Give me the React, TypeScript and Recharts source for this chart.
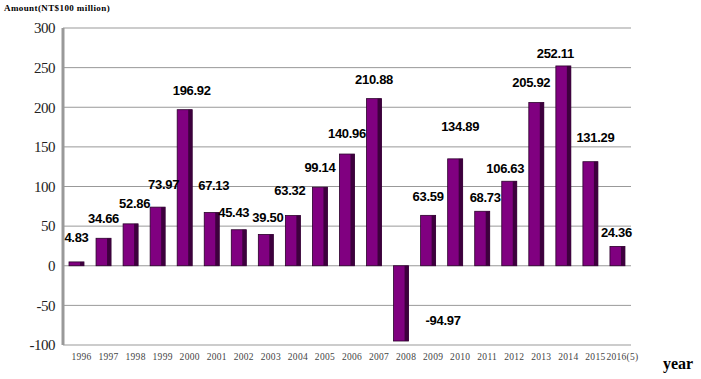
import React from 'react';
import {
  BarChart,
  Bar,
  XAxis,
  YAxis,
  CartesianGrid,
  LabelList
} from 'recharts';

const years = ['1996', '1997', '1998', '1999', '2000', '2001', '2002', '2003', '2004', '2005', '2006',
  '2007', '2008', '2009', '2010', '2011', '2012', '2013', '2014', '2015', '2016(5)'];
const amounts = [4.83, 34.66, 52.86, 73.97, 196.92, 67.13, 45.43, 39.50, 63.32, 99.14, 140.96,
  210.88, -94.97, 63.59, 134.89, 68.73, 106.63, 205.92, 252.11, 131.29, 24.36];
const yTicks = [-100, -50, 0, 50, 100, 150, 200, 250, 300];

// label placement nudges [dx, lift above bar top], as in the original picture
const labelNudge = [
  [0, 25], [0, 20], [4, 21], [6, 23], [7, 20], [2, 28], [-5, 18], [2, 17], [-3, 26], [0, 20], [0, 21],
  [0, 20], [42, 21], [0, 19], [5, 33], [3, 14], [-4, 13], [-5, 21], [-8, 13], [5, 25], [-1, 14]
];

const data = years.map((y, i) => ({ year: y, amount: amounts[i] }));

const PurpleBar = (props: any) => {
  const { x, y, width, height } = props;
  const top = Math.min(y, y + height);
  const h = Math.abs(height);
  return (
    <g>
      <rect x={x} y={top} width={width} height={h} fill="#800080" stroke="#2a002a" strokeWidth={0.8} />
      <rect x={x + width - 4} y={top} width={4} height={h} fill="#3d003d" />
    </g>
  );
};

const ValueLabel = (props: any) => {
  const { x, y, width, height, value, index } = props;
  const [dx, lift] = labelNudge[index] || [0, 20];
  const cx = x + width / 2 + dx;
  const top = Math.min(y, y + height);
  const bottom = Math.max(y, y + height);
  const ty = value < 0 ? bottom - lift + 5 : top - lift + 5;
  return (
    <text x={cx} y={ty} textAnchor="middle"
      fontFamily="Liberation Sans" fontWeight="bold" fontSize={13} fill="#000" letterSpacing={-0.3}>
      {value.toFixed(2)}
    </text>
  );
};

const App = () => {
  return (
    <div style={{ position: 'absolute', left: 0, top: 0, width: 701, height: 379, background: '#fff' }}>
      <div style={{ position: 'absolute', left: 4, top: 3, fontFamily: 'Liberation Serif', fontWeight: 'bold', fontSize: 9, letterSpacing: 0.4 }}>
        Amount(NT$100 million)
      </div>
      <div style={{ position: 'absolute', left: 663, top: 355, fontFamily: 'Liberation Serif', fontWeight: 'bold', fontSize: 16 }}>
        year
      </div>
      <BarChart width={701} height={379} data={data}
        margin={{ top: 28, right: 70, bottom: 4, left: 3 }}>
        <CartesianGrid vertical={false} stroke="#999" strokeWidth={1} />
        <XAxis dataKey="year" axisLine={false} tickLine={false} height={30} interval={0}
          tick={{ fontFamily: 'Liberation Serif', fontSize: 9.5, fill: '#444', dx: 5, letterSpacing: 0.3 }} tickMargin={2} />
        <YAxis domain={[-100, 300]} ticks={yTicks} interval={0} tickLine={false} width={60}
          axisLine={{ stroke: '#999', strokeWidth: 3 }}
          tick={{ fontFamily: 'Liberation Serif', fontSize: 15, fill: '#222', letterSpacing: -0.5 }} />
        <YAxis yAxisId="r" orientation="right" domain={[-100, 300]} width={0} tick={false}
          tickLine={false} axisLine={{ stroke: '#999' }} />
        <Bar dataKey="amount" barSize={15} shape={<PurpleBar />} isAnimationActive={false}>
          <LabelList dataKey="amount" content={<ValueLabel />} />
        </Bar>
      </BarChart>
    </div>
  );
}

export default App
